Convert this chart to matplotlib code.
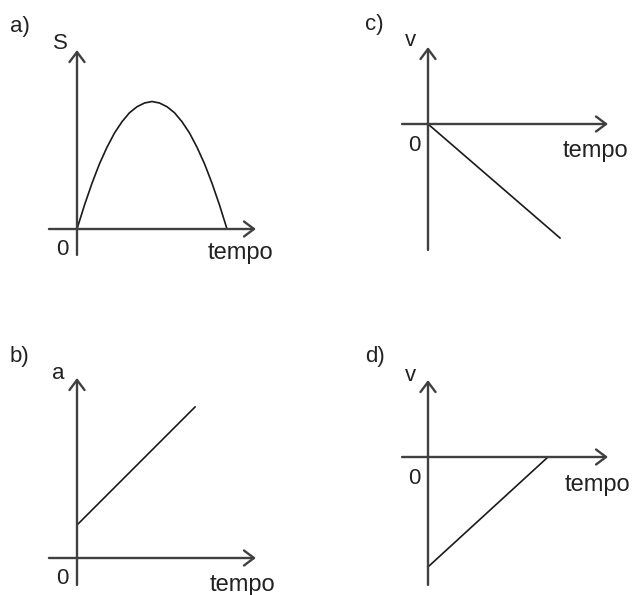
#!/usr/bin/env python3
"""four kinematics sketches: S, v, a and v against tempo"""

import matplotlib.pyplot as plt

W, H = 632, 595
PX = 15.0  # pixels per data unit in every panel

# a) position: rises from 0, peaks, back to 0
t_a = [0, 0.5, 1, 1.5, 2, 2.5, 3, 3.5, 4, 4.5, 5,
       5.5, 6, 6.5, 7, 7.5, 8, 8.5, 9, 9.5, 10]
s_a = [0, 1.6, 3.05, 4.35, 5.45, 6.4, 7.15, 7.75, 8.15, 8.4, 8.5,
       8.4, 8.15, 7.75, 7.15, 6.4, 5.45, 4.35, 3.05, 1.6, 0]

# b) acceleration grows linearly from a positive value
t_b = [0, 7.87]
a_b = [2.2, 10.07]

# c) velocity decreasing from 0
t_c = [0, 8.8]
v_c = [0, -7.6]

# d) velocity rising from a negative value up to 0
t_d = [0, 8.0]
v_d = [-7.33, 0]

# axis extents (data units) for each panel: (xmin, xmax, ymin, ymax)
ext_a = (-1.87, 11.93, -1.73, 11.93)
ext_b = (-1.87, 11.93, -1.8, 12.0)
ext_c = (-1.73, 12.0, -8.4, 5.13)
ext_d = (-1.73, 12.0, -8.53, 5.13)

AXIS_COLOR = "#404040"
LINE_COLOR = "#1a1a1a"
TEXT_COLOR = "#222222"
FONT = "Liberation Sans"


def make_panel(fig, box, origin):
    """axes filling box (left, top, right, bottom in px) with data origin at origin px"""
    left, top, right, bottom = box
    x0, y0 = origin
    ax = fig.add_axes([left / W, 1 - bottom / H, (right - left) / W, (bottom - top) / H])
    ax.set_xlim((left - x0) / PX, (right - x0) / PX)
    ax.set_ylim((y0 - bottom) / PX, (y0 - top) / PX)
    ax.axis("off")
    return ax


def draw_axes(ax, ext):
    xmin, xmax, ymin, ymax = ext
    style = dict(arrowstyle="->,head_length=0.4,head_width=0.3", mutation_scale=18,
                 lw=1.7, color=AXIS_COLOR, shrinkA=0, shrinkB=0)
    ax.annotate("", xy=(xmax, 0), xytext=(xmin, 0), arrowprops=style,
                annotation_clip=False)
    ax.annotate("", xy=(0, ymax), xytext=(0, ymin), arrowprops=style,
                annotation_clip=False)


def label(fig, x, y, s, size=16):
    fig.text(x / W, 1 - y / H, s, ha="left", va="baseline", fontsize=size,
             family=FONT, color=TEXT_COLOR)


def main():
    fig = plt.figure(figsize=(W / 100, H / 100), dpi=100)

    ax = make_panel(fig, (0, 0, 316, 297), (77, 229))
    draw_axes(ax, ext_a)
    ax.plot(t_a, s_a, color=LINE_COLOR, lw=1.2)

    ax = make_panel(fig, (316, 0, 632, 297), (428, 124))
    draw_axes(ax, ext_c)
    ax.plot(t_c, v_c, color=LINE_COLOR, lw=1.2)

    ax = make_panel(fig, (0, 297, 316, 595), (77, 558))
    draw_axes(ax, ext_b)
    ax.plot(t_b, a_b, color=LINE_COLOR, lw=1.2)

    ax = make_panel(fig, (316, 297, 632, 595), (428, 457))
    draw_axes(ax, ext_d)
    ax.plot(t_d, v_d, color=LINE_COLOR, lw=1.2)

    # panel letters, axis names, origins
    label(fig, 10, 32, "a)")
    label(fig, 53, 49, "S")
    label(fig, 56, 255, "0")
    label(fig, 208, 259, "tempo", 17)

    label(fig, 365, 30, "c)")
    label(fig, 405, 46, "v")
    label(fig, 408, 151, "0")
    label(fig, 563, 157, "tempo", 17)

    label(fig, 10, 362, "b)")
    label(fig, 52, 379, "a")
    label(fig, 56, 584, "0")
    label(fig, 210, 591, "tempo", 17)

    label(fig, 365, 362, "d)")
    label(fig, 405, 381, "v")
    label(fig, 408, 484, "0")
    label(fig, 565, 491, "tempo", 17)

    fig.savefig("out.png", dpi=100, facecolor="white")


if __name__ == "__main__":
    main()
